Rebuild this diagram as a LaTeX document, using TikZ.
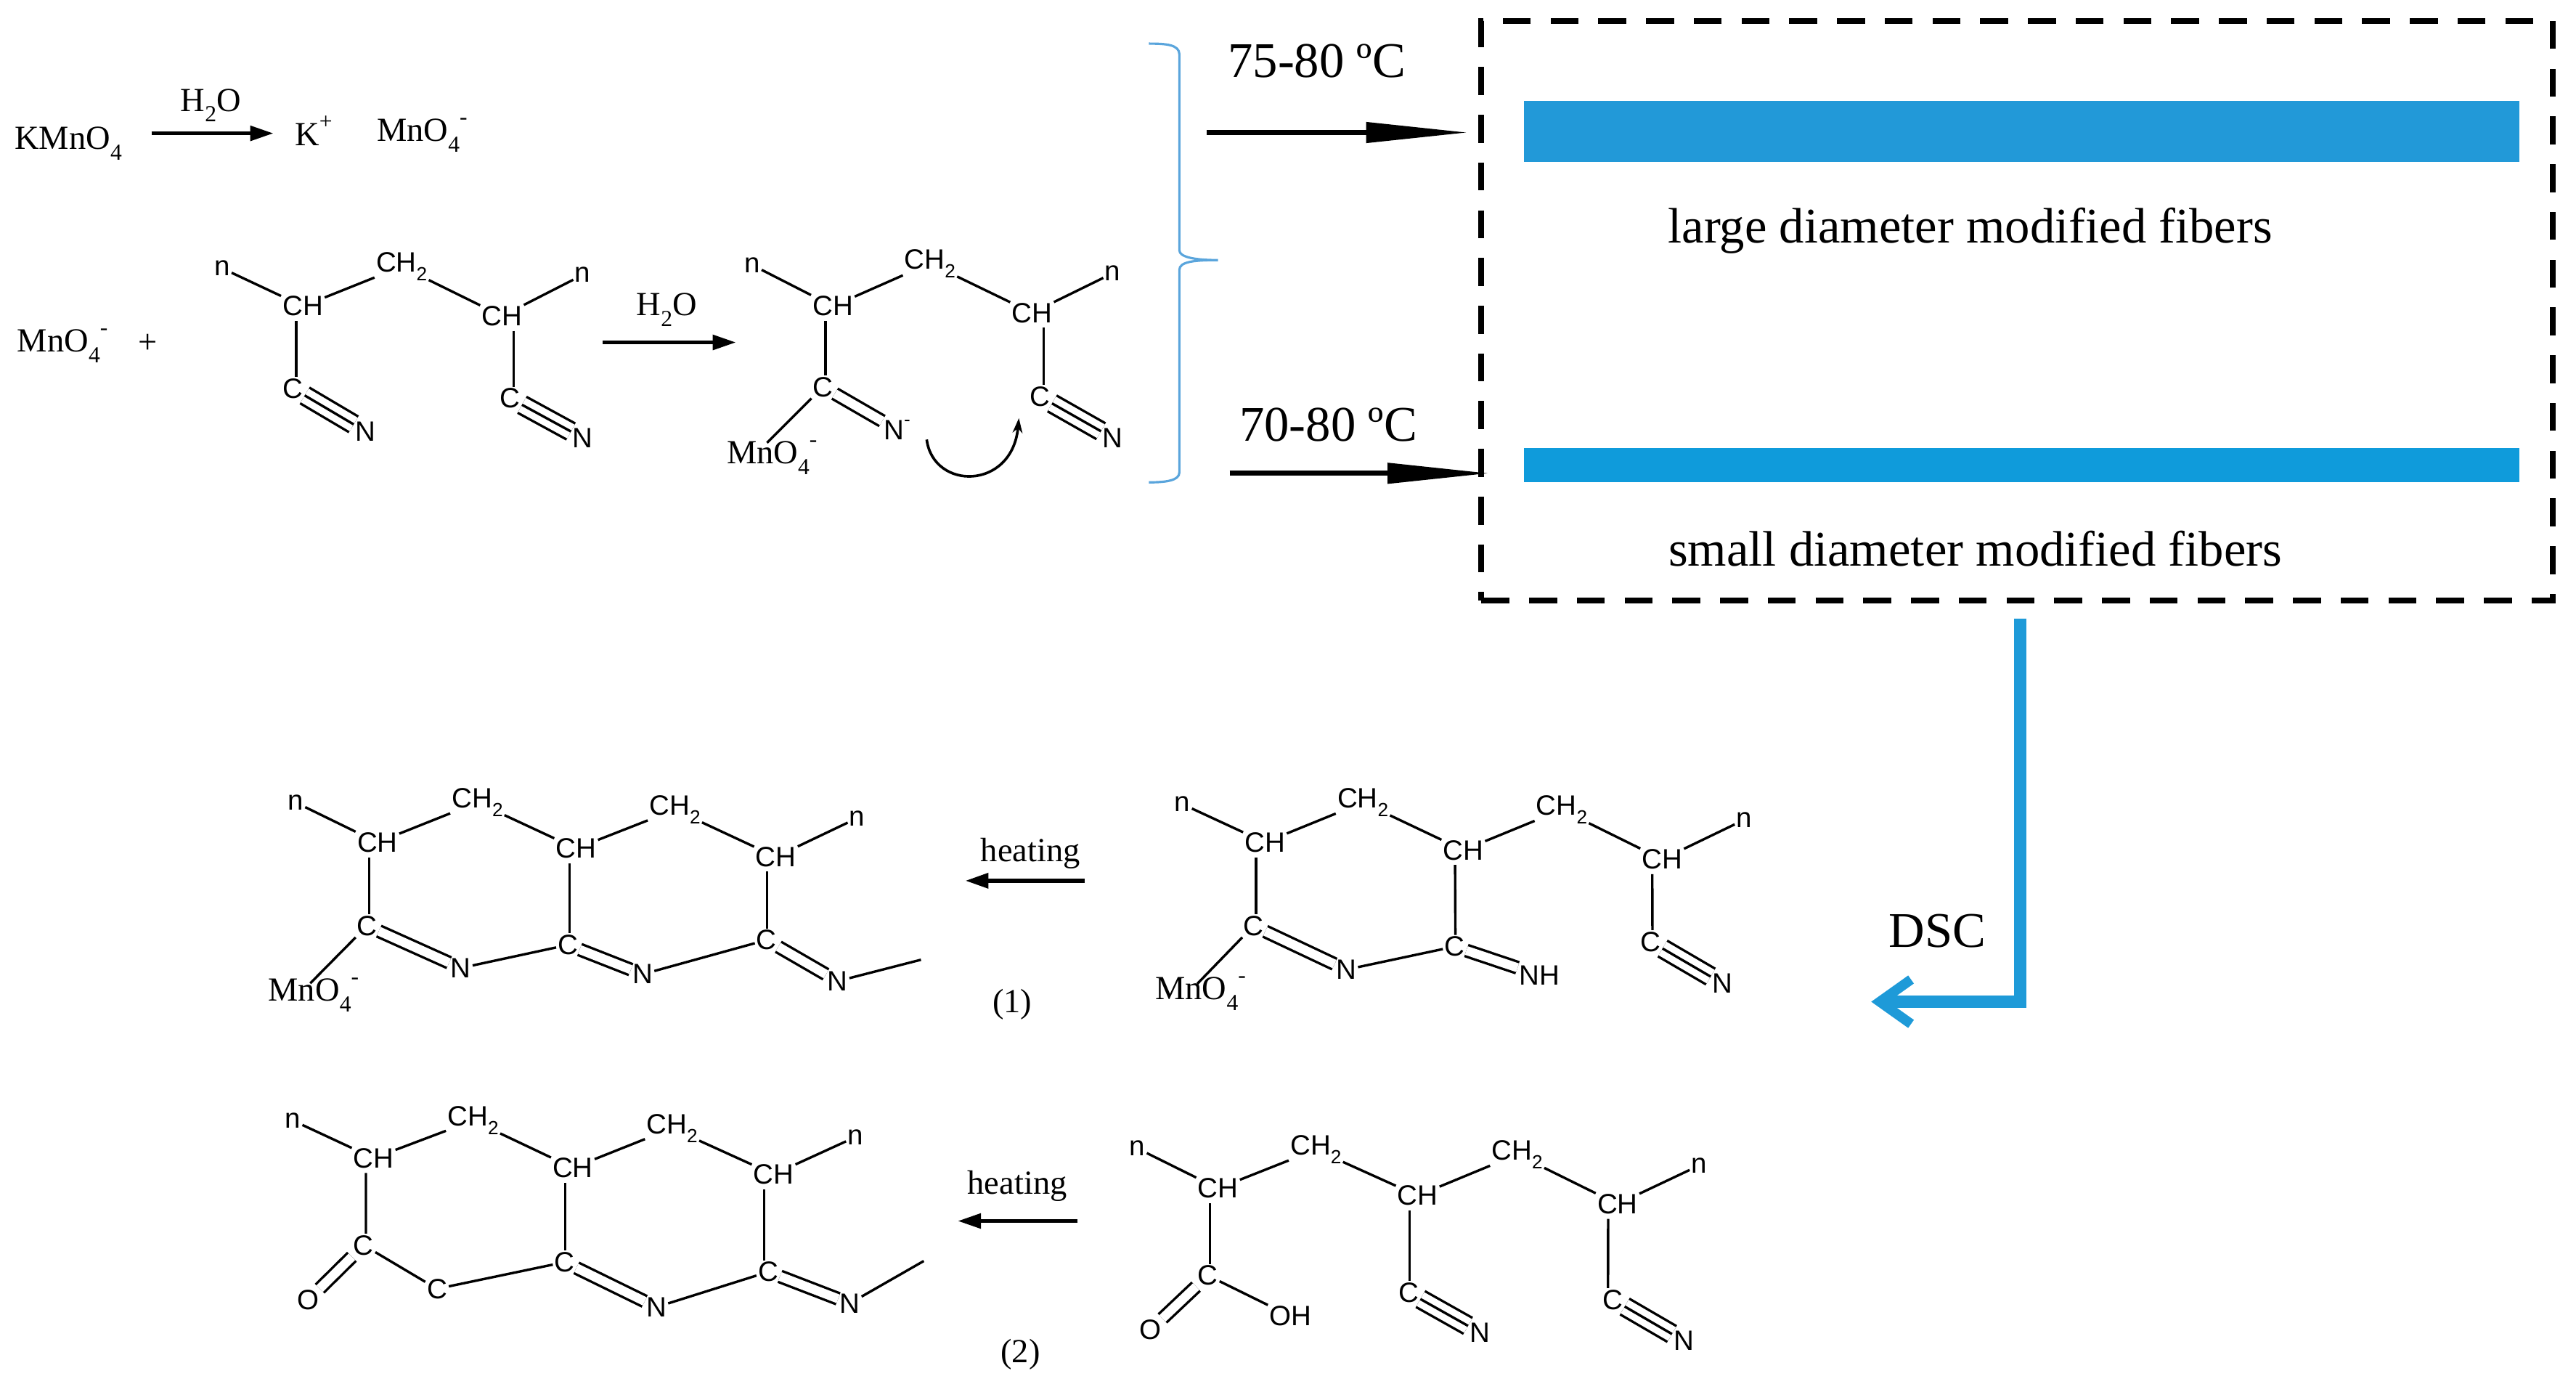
\documentclass[tikz,border=0pt]{standalone}
\usepackage{fontspec}
\setmainfont{Liberation Serif}
\setsansfont{Liberation Sans}
\usetikzlibrary{arrows.meta}
\definecolor{fiberA}{HTML}{2299D8}
\definecolor{fiberB}{HTML}{0F9BDB}
\definecolor{bracec}{HTML}{5AA5DC}
\definecolor{elbowc}{HTML}{1E9AD8}
\newcommand{\sbs}[1]{\raisebox{-.32em}{\scalebox{.68}{#1}}}
\newcommand{\sps}[1]{\raisebox{.5em}{\scalebox{.68}{#1}}}
\newcommand{\mno}{MnO\sbs{4}\sps{-}}
\newcommand{\cht}{CH\sbs{2}}
\newcommand{\vbond}[4]{\draw[bond] ([xshift=#2pt,yshift=-2pt]#1.south) -- ([xshift=#4pt]#3.north);}
\newcommand{\tribond}[2]{\draw[bond,double,double distance=9.5pt] (#1) -- (#2); \draw[bond] (#1) -- (#2);}
\newcommand{\dblbond}[2]{\draw[bond,double,double distance=5.5pt] (#1) -- (#2);}
\tikzset{
  atom/.style={font=\sffamily\fontsize{17}{19}\selectfont,inner sep=1pt,outer sep=0pt},
  lbl/.style={font=\fontsize{20.5}{22}\selectfont,inner sep=1pt},
  big/.style={font=\fontsize{30.3}{32}\selectfont,inner sep=1pt},
  bond/.style={line width=1.5pt,black},
  rarrow/.style={line width=2pt,-{Triangle[length=14pt,width=9pt]}},
  bigarrow/.style={line width=3pt,-{Triangle[length=62pt,width=12pt]}},
  fiber/.style={minimum width=605pt,inner sep=0pt,outer sep=0pt},
}
\begin{document}
\begin{tikzpicture}[x=1pt,y=-1pt]
\useasboundingbox (0,0) rectangle (1565,840.7);
% ---- top row
\node[lbl] (km) at (41.5,87) {KMnO\sbs{4}};
\node[lbl] (kp) at (190.5,79.5) {K\sps{+}};
\node[lbl] (m0) at (256.5,82) {\mno};
\node[lbl] (wa) at (128,64) {H\sbs{2}O};
\coordinate (ka) at (92,81); \coordinate (kb) at (166,81);
\draw[rarrow] (ka) -- (kb);
\node[lbl] (m1) at (38,210) {\mno};
\node[lbl] (pl) at (90,209) {+};
% ---- molecule A
\node[atom] (a1) at (135,163) {n};
\node[atom] (a2) at (184,186) {CH};
\node[atom] (a3) at (244,162) {\cht};
\node[atom] (a4) at (305,192) {CH};
\node[atom] (a5) at (354,167) {n};
\node[atom] (a6) at (178,236) {C};
\node[atom] (a7) at (222,262) {N};
\node[atom] (a8) at (310,242) {C};
\node[atom] (a9) at (354,266) {N};
\draw[bond] (a1)--(a2); \draw[bond] (a2)--(a3); \draw[bond] (a3)--(a4); \draw[bond] (a4)--(a5);
\vbond{a2}{-4}{a6}{2} \vbond{a4}{7}{a8}{2}
\tribond{a6}{a7} \tribond{a8}{a9}
\coordinate (wb1) at (366,208); \coordinate (wb2) at (447,208);
\draw[rarrow] (wb1) -- (wb2);
\node[lbl] (wb) at (405,188) {H\sbs{2}O};
% ---- molecule B
\node[atom] (b1) at (457,161) {n};
\node[atom] (b2) at (506,186) {CH};
\node[atom] (b3) at (565,160) {\cht};
\node[atom] (b4) at (627,190) {CH};
\node[atom] (b5) at (676,166) {n};
\node[atom] (b6) at (500,235) {C};
\node[atom] (b7) at (545,261) {N\sps{-}};
\node[atom] (b8) at (632,241) {C};
\node[atom] (b9) at (676,266) {N};
\node[lbl] (bm) at (469,278) {\mno};
\draw[bond] (b1)--(b2); \draw[bond] (b2)--(b3); \draw[bond] (b3)--(b4); \draw[bond] (b4)--(b5);
\vbond{b2}{-4.5}{b6}{1.5} \vbond{b4}{7}{b8}{2}
\dblbond{b6}{b7} \tribond{b8}{b9}
\draw[bond] (b6) -- ([shift={(-3,-9)}]bm.center);
\coordinate (ca1) at (563,267); \coordinate (ca2) at (619,254);
\draw[line width=1.6pt,-{Stealth[length=9pt,width=6pt]}] (ca1) .. controls (567,298) and (615,298) .. (ca2);
% ---- brace
\draw[bracec,line width=1.4pt] (698,26.5) .. controls (708,26.5) and (716.5,27) .. (716.5,33) -- (716.5,152)
  .. controls (716.5,156) and (725,158) .. (740,158) .. controls (725,158) and (716.5,159) .. (716.5,164)
  -- (716.5,287) .. controls (716.5,292) and (708,293) .. (698,293);
% ---- dashed box and fibers
\node[draw,line width=3.6pt,dash pattern=on 17pt off 12pt,minimum width=651pt,minimum height=352pt,inner sep=0pt,outer sep=0pt] (dbox) at (1225.5,188.7) {};
\node[fiber,fill=fiberA,minimum height=37pt] (f1) at (1228.2,80) {};
\node[fiber,fill=fiberB,minimum height=21pt] (f2) at (1228.2,282.5) {};
\node[big] (t1) at (1197,140) {large diameter modified fibers};
\node[big] (t2) at (1200,333.5) {small diameter modified fibers};
\node[big] (t3) at (800,37) {75-80 ºC};
\node[big] (t4) at (807,258) {70-80 ºC};
\coordinate (h1) at (733,80.5); \coordinate (h2) at (892,80.5);
\coordinate (h3) at (747,287.5); \coordinate (h4) at (905,287.5);
\draw[bigarrow] (h1) -- (h2);
\draw[bigarrow] (h3) -- (h4);
% ---- DSC elbow
\coordinate (e1) at (1227.5,376); \coordinate (e2) at (1227.5,608.5); \coordinate (e3) at (1142,608.5);
\coordinate (e4) at (1161,595); \coordinate (e5) at (1161,622);
\draw[elbowc,line width=7.5pt] (e1) -- (e2) -- (e3);
\draw[elbowc,line width=6pt] (e4) -- (e3) -- (e5);
\node[big] (dsc) at (1177,565.5) {DSC};
% ---- molecule C
\node[atom] (c1) at (179.7,487.5) {n};
\node[atom] (c2) at (229.3,511.7) {CH};
\node[atom] (c3) at (290,487.5) {\cht};
\node[atom] (c4) at (350,515.4) {CH};
\node[atom] (c5) at (410,491.9) {\cht};
\node[atom] (c6) at (471.4,520.5) {CH};
\node[atom] (c7) at (520.7,497) {n};
\node[atom] (c8) at (223,562.4) {C};
\node[atom] (c9) at (280,588) {N};
\node[atom] (c10) at (345,574) {C};
\node[atom] (c11) at (390.4,591.8) {N};
\node[atom] (c12) at (465.7,571) {C};
\node[atom] (c13) at (508.9,596) {N};
\node[lbl] (cm) at (190.5,604.3) {\mno};
\coordinate (ct) at (559.5,583);
\draw[bond] (c1)--(c2); \draw[bond] (c2)--(c3); \draw[bond] (c3)--(c4); \draw[bond] (c4)--(c5); \draw[bond] (c5)--(c6); \draw[bond] (c6)--(c7);
\vbond{c2}{-5}{c8}{1.3} \vbond{c4}{-4}{c10}{1} \vbond{c6}{-5.4}{c12}{.3}
\dblbond{c8}{c9} \dblbond{c10}{c11} \dblbond{c12}{c13}
\draw[bond] (c9)--(c10); \draw[bond] (c11)--(c12); \draw[bond] (c13)--(ct);
\draw[bond] (c8) -- ([shift={(-2,-7)}]cm.center);
\node[lbl] (h1t) at (626,518.3) {heating};
\coordinate (ha) at (659,535); \coordinate (hb) at (586.5,535);
\draw[rarrow,line width=2.4pt] (ha) -- (hb);
\node[lbl] (l1) at (615,610) {(1)};
% ---- molecule D
\node[atom] (d1) at (718.4,488.5) {n};
\node[atom] (d2) at (768.5,511.7) {CH};
\node[atom] (d3) at (828,487.5) {\cht};
\node[atom] (d4) at (889,516.4) {CH};
\node[atom] (d5) at (948.8,491.9) {\cht};
\node[atom] (d6) at (1009.8,522) {CH};
\node[atom] (d7) at (1059.6,498) {n};
\node[atom] (d8) at (761.5,562.4) {C};
\node[atom] (d9) at (817.9,589) {N};
\node[atom] (d10) at (883.7,575) {C};
\node[atom] (d11) at (935.2,592.3) {NH};
\node[atom] (d12) at (1002.9,572) {C};
\node[atom] (d13) at (1046.4,597.4) {N};
\node[lbl] (dm) at (729.4,603.6) {\mno};
\draw[bond] (d1)--(d2); \draw[bond] (d2)--(d3); \draw[bond] (d3)--(d4); \draw[bond] (d4)--(d5); \draw[bond] (d5)--(d6); \draw[bond] (d6)--(d7);
\vbond{d2}{-5.5}{d8}{1.5} \vbond{d4}{-5}{d10}{.5} \vbond{d6}{-6}{d12}{1}
\dblbond{d8}{d9} \dblbond{d10}{d11} \tribond{d12}{d13}
\draw[bond] (d9)--(d10);
\draw[bond] (d8) -- ([shift={(-2,-6)}]dm.center);
% ---- molecule E
\node[atom] (e6a) at (178,680.7) {n};
\node[atom] (e6b) at (227,703.5) {CH};
\node[atom] (e6c) at (287.4,680.7) {\cht};
\node[atom] (e6d) at (348,709.4) {CH};
\node[atom] (e6e) at (408.3,685.4) {\cht};
\node[atom] (e6f) at (470,713.4) {CH};
\node[atom] (e6g) at (519.7,690.7) {n};
\node[atom] (e6h) at (220.9,756.4) {C};
\node[atom] (e6i) at (187.1,789.8) {O};
\node[atom] (e6j) at (265.5,782.9) {C};
\node[atom] (e6k) at (343,766.7) {C};
\node[atom] (e6l) at (398.8,794) {N};
\node[atom] (e6m) at (466.7,772.6) {C};
\node[atom] (e6n) at (516.3,791.7) {N};
\coordinate (et) at (561.2,766);
\draw[bond] (e6a)--(e6b); \draw[bond] (e6b)--(e6c); \draw[bond] (e6c)--(e6d); \draw[bond] (e6d)--(e6e); \draw[bond] (e6e)--(e6f); \draw[bond] (e6f)--(e6g);
\vbond{e6b}{-4.7}{e6h}{1.4} \vbond{e6d}{-4.6}{e6k}{.4} \vbond{e6f}{-5.7}{e6m}{-2.4}
\dblbond{e6h}{e6i} \dblbond{e6k}{e6l} \dblbond{e6m}{e6n}
\draw[bond] (e6h)--(e6j); \draw[bond] (e6j)--(e6k); \draw[bond] (e6l)--(e6m); \draw[bond] (e6n)--(et);
\node[lbl] (h2t) at (618,720.4) {heating};
\coordinate (hc) at (654.7,741.7); \coordinate (hd) at (582,741.7);
\draw[rarrow,line width=2pt] (hc) -- (hd);
\node[lbl] (l2) at (620,822.6) {(2)};
% ---- molecule F
\node[atom] (f6a) at (691,697.6) {n};
\node[atom] (f6b) at (740,721.9) {CH};
\node[atom] (f6c) at (799.4,698.4) {\cht};
\node[atom] (f6d) at (861.3,726.3) {CH};
\node[atom] (f6e) at (921.7,701.3) {\cht};
\node[atom] (f6f) at (982.7,731.4) {CH};
\node[atom] (f6g) at (1032.2,708) {n};
\node[atom] (f6h) at (733.8,774.8) {C};
\node[atom] (f6i) at (698.8,807.9) {O};
\node[atom] (f6j) at (784,799.5) {OH};
\node[atom] (f6k) at (855.8,785.1) {C};
\node[atom] (f6l) at (899,809.4) {N};
\node[atom] (f6m) at (979.9,789.5) {C};
\node[atom] (f6n) at (1022.9,814.5) {N};
\draw[bond] (f6a)--(f6b); \draw[bond] (f6b)--(f6c); \draw[bond] (f6c)--(f6d); \draw[bond] (f6d)--(f6e); \draw[bond] (f6e)--(f6f); \draw[bond] (f6f)--(f6g);
\vbond{f6b}{-5}{f6h}{1.2} \vbond{f6d}{-4.8}{f6k}{.7} \vbond{f6f}{-5.7}{f6m}{-3}
\dblbond{f6h}{f6i} \tribond{f6k}{f6l} \tribond{f6m}{f6n}
\draw[bond] (f6h)--(f6j);
\end{tikzpicture}
\end{document}
